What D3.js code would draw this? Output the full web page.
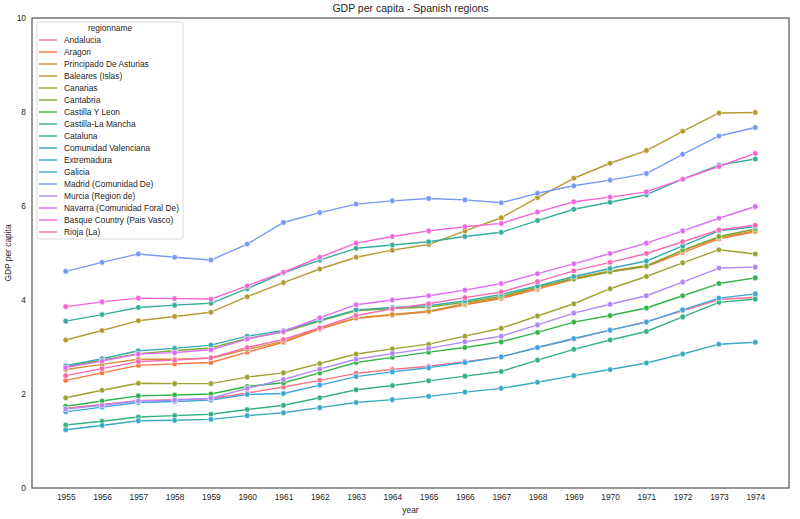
<!DOCTYPE html>
<html>
<head>
<meta charset="utf-8">
<script src="https://cdn.jsdelivr.net/npm/d3@7"></script>
<style>
  html, body { margin: 0; padding: 0; background: #fff; }
  svg { display: block; }
  text { font-family: "Liberation Sans", Arial, "DejaVu Sans", sans-serif; fill: #262626; }
</style>
</head>
<body>
<svg id="chart" width="800" height="519"></svg>
<script>
// ---------------- data ----------------
const years = [1955,1956,1957,1958,1959,1960,1961,1962,1963,1964,1965,1966,1967,1968,1969,1970,1971,1972,1973,1974];
const regionNames = ["Andalucia","Aragon","Principado De Asturias","Baleares (Islas)","Canarias","Cantabria","Castilla Y Leon","Castilla-La Mancha","Cataluna","Comunidad Valenciana","Extremadura","Galicia","Madrid (Comunidad De)","Murcia (Region de)","Navarra (Comunidad Foral De)","Basque Country (Pais Vasco)","Rioja (La)"];
const yTicks = [0, 2, 4, 6, 8, 10];

const andalucia   = [1.70,1.78,1.86,1.88,1.90,2.02,2.15,2.29,2.44,2.52,2.59,2.69,2.79,2.99,3.17,3.36,3.54,3.77,4.01,4.06];
const aragon      = [2.29,2.45,2.61,2.64,2.67,2.89,3.10,3.38,3.61,3.68,3.75,3.90,4.03,4.23,4.44,4.60,4.71,5.01,5.30,5.45];
const asturias    = [2.52,2.63,2.74,2.74,2.76,2.95,3.12,3.39,3.62,3.69,3.76,3.92,4.05,4.26,4.47,4.62,4.73,5.05,5.33,5.47];
const baleares    = [3.15,3.35,3.56,3.65,3.74,4.07,4.37,4.66,4.91,5.06,5.18,5.47,5.75,6.18,6.59,6.91,7.18,7.59,7.98,7.99];
const canarias    = [1.92,2.08,2.23,2.22,2.22,2.36,2.45,2.65,2.85,2.96,3.06,3.23,3.40,3.66,3.92,4.24,4.50,4.79,5.07,4.98];
const cantabria   = [2.58,2.72,2.86,2.92,2.98,3.18,3.32,3.55,3.77,3.82,3.85,3.95,4.08,4.28,4.45,4.60,4.72,5.06,5.35,5.51];
const castLeon    = [1.74,1.85,1.96,1.98,2.00,2.16,2.24,2.45,2.67,2.78,2.89,2.99,3.11,3.31,3.53,3.67,3.83,4.09,4.35,4.47];
const castMancha  = [1.34,1.42,1.51,1.54,1.57,1.67,1.76,1.92,2.09,2.18,2.28,2.38,2.48,2.72,2.95,3.15,3.33,3.64,3.95,4.02];
const cataluna    = [3.55,3.69,3.84,3.89,3.93,4.24,4.58,4.85,5.10,5.17,5.24,5.35,5.44,5.69,5.93,6.08,6.24,6.57,6.87,7.00];
const valenciana  = [2.60,2.75,2.92,2.97,3.04,3.23,3.35,3.57,3.79,3.84,3.88,3.98,4.12,4.30,4.50,4.67,4.83,5.15,5.47,5.56];
const extremadura = [1.24,1.33,1.43,1.44,1.46,1.54,1.60,1.71,1.82,1.88,1.95,2.04,2.12,2.25,2.39,2.52,2.66,2.85,3.06,3.10];
const galicia     = [1.62,1.72,1.82,1.84,1.87,1.99,2.01,2.19,2.37,2.47,2.56,2.67,2.79,2.99,3.18,3.36,3.53,3.79,4.04,4.13];
const madrid      = [4.61,4.80,4.98,4.91,4.85,5.19,5.65,5.86,6.04,6.11,6.16,6.13,6.07,6.27,6.43,6.55,6.69,7.10,7.49,7.67];
const murcia      = [1.68,1.76,1.85,1.87,1.91,2.12,2.31,2.53,2.74,2.86,2.97,3.11,3.23,3.47,3.72,3.91,4.09,4.38,4.68,4.70];
const navarra     = [2.56,2.70,2.85,2.88,2.94,3.17,3.33,3.62,3.90,4.00,4.09,4.21,4.35,4.56,4.77,4.99,5.21,5.47,5.74,5.99];
const paisVasco   = [3.86,3.96,4.04,4.03,4.02,4.30,4.59,4.91,5.21,5.35,5.47,5.56,5.63,5.87,6.09,6.19,6.30,6.57,6.84,7.12];
const rioja       = [2.39,2.54,2.69,2.72,2.77,2.99,3.16,3.41,3.67,3.81,3.92,4.05,4.17,4.39,4.62,4.80,4.99,5.24,5.49,5.59];

const seriesValues = [andalucia, aragon, asturias, baleares, canarias, cantabria, castLeon, castMancha,
  cataluna, valenciana, extremadura, galicia, madrid, murcia, navarra, paisVasco, rioja];

// ---------------- husl palette (seaborn style) ----------------
const M = [[3.2406, -1.5372, -0.4986], [-0.9689, 1.8758, 0.0415], [0.0557, -0.2040, 1.0570]];
function maxChroma(L, H) {
  const hrad = H * Math.PI / 180, sinH = Math.sin(hrad), cosH = Math.cos(hrad);
  const sub1 = Math.pow(L + 16, 3) / 1560896;
  const sub2 = sub1 > 0.008856 ? sub1 : L / 903.3;
  let result = Infinity;
  for (const [m1, m2, m3] of M) {
    const tp = (0.99915 * m1 + 1.05122 * m2 + 1.14460 * m3) * sub2;
    const rbottom = 0.86330 * m3 - 0.17266 * m2;
    const lbottom = 0.12949 * m3 - 0.38848 * m1;
    const bt = (rbottom * sinH + lbottom * cosH) * sub2;
    for (const t of [0, 1]) {
      const C = L * (tp - 1.05122 * t) / (bt + 0.17266 * sinH * t);
      if (C > 0 && C < result) result = C;
    }
  }
  return result;
}
function huslToHex(H, S, L) {
  const C = maxChroma(L, H) / 100 * S;
  const hrad = H * Math.PI / 180;
  const U = Math.cos(hrad) * C, V = Math.sin(hrad) * C;
  const refU = 0.19784, refV = 0.46834;
  const t = (L + 16) / 116;
  const Y = t * t * t > 0.008856 ? t * t * t : (116 * t - 16) / 903.3;
  const varU = U / (13 * L) + refU, varV = V / (13 * L) + refV;
  const X = -(9 * Y * varU) / ((varU - 4) * varV - varU * varV);
  const Z = (9 * Y - 15 * varV * Y - varV * X) / (3 * varV);
  const rgb = M.map(r => r[0] * X + r[1] * Y + r[2] * Z)
    .map(c => c <= 0.0031308 ? 12.92 * c : 1.055 * Math.pow(c, 1 / 2.4) - 0.055)
    .map(c => Math.max(0, Math.min(1, c)) * 255);
  return d3.rgb(rgb[0], rgb[1], rgb[2]).formatHex();
}
const nHues = regionNames.length;
const palette = d3.range(nHues).map(i => huslToHex(((i / nHues) + 0.01) % 1 * 359, 0.9 * 99, 0.65 * 99));

// ---------------- layout ----------------
const svg = d3.select("#chart");
const pLeft = 32, pRight = 789, pTop = 18, pBottom = 488;
const fs = "8.4px";

const x = d3.scalePoint().domain(years).range([pLeft, pRight]).padding(0.93);
const y = d3.scaleLinear().domain([0, 10]).range([pBottom, pTop]);

// title
svg.append("text").attr("x", (pLeft + pRight) / 2).attr("y", 12)
  .attr("text-anchor", "middle").style("font-size", "10.5px").text("GDP per capita - Spanish regions");

// axes
const xAxis = d3.axisBottom(x).tickSize(0).tickPadding(6);
const gx = svg.append("g").attr("transform", `translate(0,${pBottom})`).call(xAxis);
gx.select(".domain").remove();
gx.selectAll("text").style("font-size", fs).style("font-family", "'Liberation Sans', Arial, sans-serif").attr("fill", "#262626");

const yAxis = d3.axisLeft(y).tickValues(yTicks).tickSize(0).tickPadding(6).tickFormat(d3.format("d"));
const gy = svg.append("g").attr("transform", `translate(${pLeft},0)`).call(yAxis);
gy.select(".domain").remove();
gy.selectAll("text").style("font-size", fs).style("font-family", "'Liberation Sans', Arial, sans-serif").attr("fill", "#262626");

svg.append("text").attr("x", (pLeft + pRight) / 2).attr("y", 513)
  .attr("text-anchor", "middle").style("font-size", fs).text("year");
svg.append("text").attr("transform", `translate(11,${(pTop + pBottom) / 2}) rotate(-90)`)
  .attr("text-anchor", "middle").style("font-size", fs).text("GDP per capita");

// lines
const line = d3.line().x((d, i) => x(years[i])).y(d => y(d));
const plot = svg.append("g");
seriesValues.forEach((vals, k) => {
  const g = plot.append("g");
  g.append("path").datum(vals).attr("d", line).attr("fill", "none")
    .attr("stroke", palette[k]).attr("stroke-width", 1.4).attr("stroke-linejoin", "round");
  g.selectAll("circle").data(vals).join("circle")
    .attr("cx", (d, i) => x(years[i])).attr("cy", d => y(d)).attr("r", 2.8)
    .attr("fill", palette[k]).attr("stroke", "#fff").attr("stroke-width", 0.6);
});

// frame
svg.append("rect").attr("x", pLeft).attr("y", pTop).attr("width", pRight - pLeft).attr("height", pBottom - pTop)
  .attr("fill", "none").attr("stroke", "#444").attr("stroke-width", 1.1);

// legend
const lg = svg.append("g");
lg.append("rect").attr("x", 37).attr("y", 22).attr("width", 146).attr("height", 217).attr("rx", 2)
  .attr("fill", "#fff").attr("fill-opacity", 0.8).attr("stroke", "#d0d0d0").attr("stroke-width", 0.8);
lg.append("text").attr("x", 110).attr("y", 31).attr("text-anchor", "middle").style("font-size", fs).text("regionname");
regionNames.forEach((name, i) => {
  const cy = 40 + i * 12;
  lg.append("line").attr("x1", 39).attr("x2", 57).attr("y1", cy).attr("y2", cy)
    .attr("stroke", palette[i]).attr("stroke-width", 1.4);
  lg.append("text").attr("x", 64).attr("y", cy + 3).style("font-size", fs).text(name);
});
</script>
</body>
</html>
